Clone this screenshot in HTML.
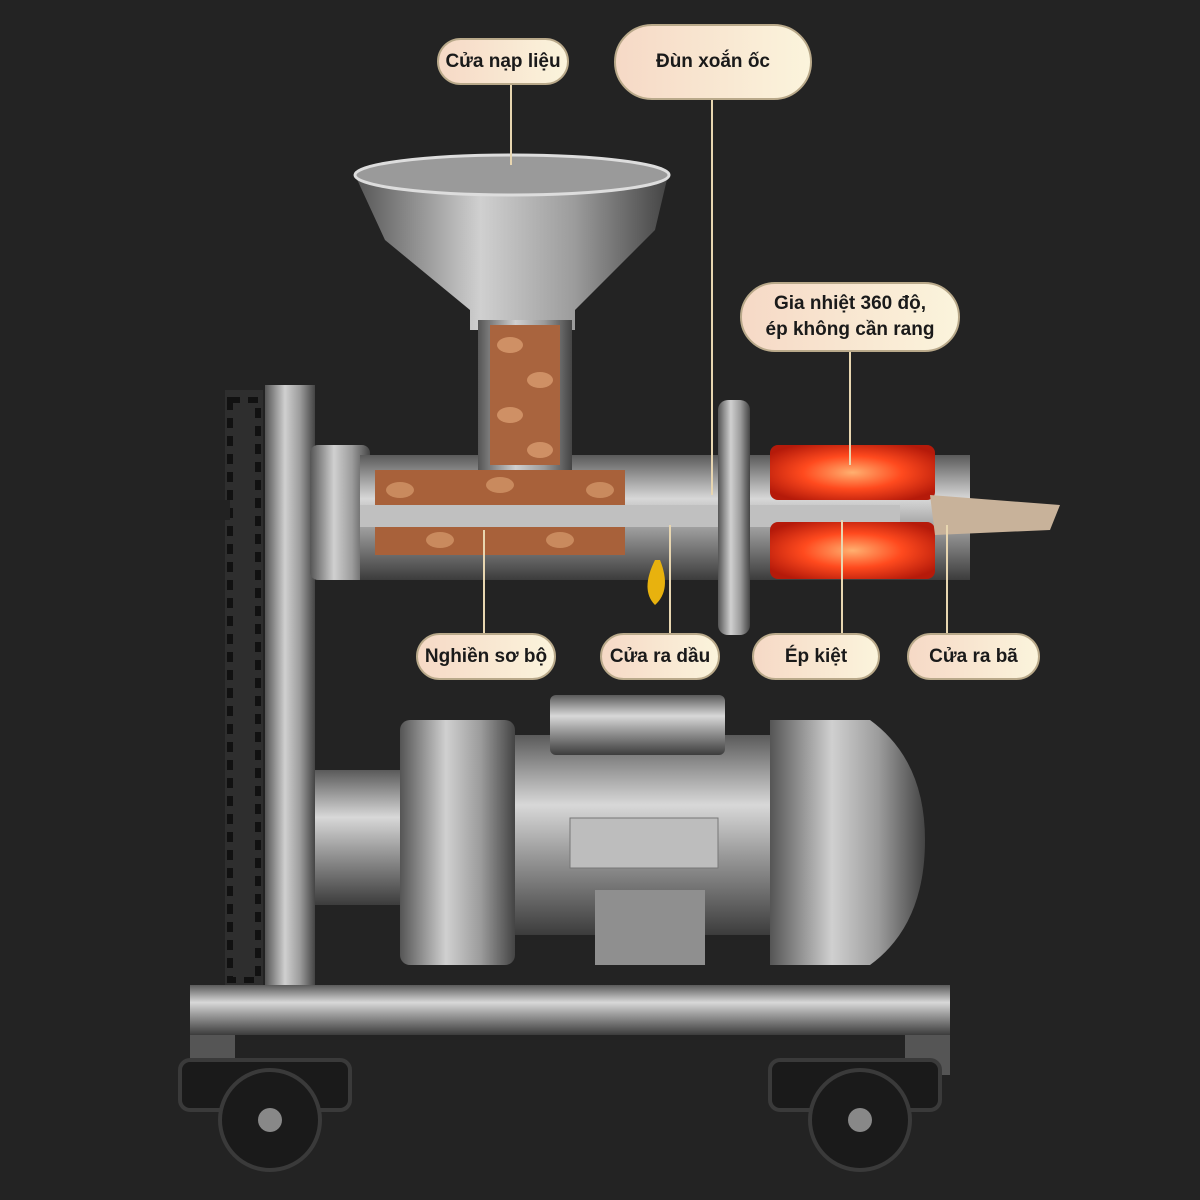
<!DOCTYPE html>
<html><head><meta charset="utf-8"><style>
body{margin:0;width:1200px;height:1200px;background:#232323;overflow:hidden;position:relative;font-family:"Liberation Sans","Noto Sans CJK SC",sans-serif}
.l{position:absolute;border-radius:40px;background:linear-gradient(90deg,#f6d9c6,#fbf4dc);color:#1a1a1a;font-weight:bold;font-size:19px;display:flex;align-items:center;justify-content:center;text-align:center;line-height:26px;border:2px solid #b9a98a;box-sizing:border-box}
svg{position:absolute;left:0;top:0}
</style></head><body>
<svg width="1200" height="1200" viewBox="0 0 1200 1200">
<defs>
<linearGradient id="m" x1="0" y1="0" x2="0" y2="1"><stop offset="0" stop-color="#5a5a5a"/><stop offset=".35" stop-color="#d8d8d8"/><stop offset=".6" stop-color="#9a9a9a"/><stop offset="1" stop-color="#3c3c3c"/></linearGradient>
<linearGradient id="mh" x1="0" y1="0" x2="1" y2="0"><stop offset="0" stop-color="#555"/><stop offset=".4" stop-color="#d0d0d0"/><stop offset=".7" stop-color="#9c9c9c"/><stop offset="1" stop-color="#444"/></linearGradient>
<radialGradient id="r" cx=".5" cy=".5" r=".6"><stop offset="0" stop-color="#ffb070"/><stop offset=".5" stop-color="#ff4a1e"/><stop offset="1" stop-color="#b51a0a"/></radialGradient>
</defs>
<!-- chain & plate -->
<rect x="225" y="390" width="38" height="600" fill="#2e2e2e"/>
<g fill="#111">
<rect x="230" y="400" width="28" height="580" fill="none" stroke="#111" stroke-width="6" stroke-dasharray="10 8"/></g>
<rect x="265" y="385" width="50" height="600" fill="url(#mh)"/>
<rect x="180" y="500" width="50" height="20" fill="#222"/>
<!-- barrel -->
<rect x="310" y="445" width="60" height="135" rx="8" fill="url(#mh)"/>
<rect x="360" y="455" width="610" height="125" fill="url(#m)"/>
<rect x="375" y="470" width="250" height="85" fill="#a8613a"/>
<g fill="#c98a5e"><ellipse cx="400" cy="490" rx="14" ry="8"/><ellipse cx="440" cy="540" rx="14" ry="8"/><ellipse cx="500" cy="485" rx="14" ry="8"/><ellipse cx="560" cy="540" rx="14" ry="8"/><ellipse cx="600" cy="490" rx="14" ry="8"/></g>
<rect x="360" y="505" width="540" height="22" fill="#c0c0c0"/>
<!-- funnel -->
<path d="M355 175 L668 175 L655 230 L575 310 L575 330 L470 330 L470 310 L385 240 Z" fill="url(#mh)"/>
<ellipse cx="512" cy="175" rx="157" ry="20" fill="#9a9a9a" stroke="#ddd" stroke-width="3"/>
<rect x="478" y="320" width="94" height="150" fill="url(#mh)"/>
<rect x="490" y="325" width="70" height="140" fill="#a9643e"/>
<g fill="#cf9065"><ellipse cx="510" cy="345" rx="13" ry="8"/><ellipse cx="540" cy="380" rx="13" ry="8"/><ellipse cx="510" cy="415" rx="13" ry="8"/><ellipse cx="540" cy="450" rx="13" ry="8"/></g>
<!-- disc -->
<rect x="718" y="400" width="32" height="235" rx="10" fill="url(#mh)"/>
<!-- heaters -->
<rect x="770" y="445" width="165" height="55" rx="8" fill="url(#r)"/>
<rect x="770" y="522" width="165" height="57" rx="8" fill="url(#r)"/>
<rect x="935" y="455" width="30" height="125" fill="url(#m)"/>
<path d="M930 495 L1060 505 L1050 530 L935 535 Z" fill="#c8b29a"/>
<path d="M655 560 Q640 590 655 605 Q672 590 660 560 Z" fill="#e8b20e"/>
<!-- motor -->
<rect x="315" y="770" width="90" height="135" fill="url(#m)"/>
<rect x="400" y="720" width="115" height="245" rx="10" fill="url(#mh)"/>
<rect x="515" y="735" width="270" height="200" fill="url(#m)"/>
<rect x="550" y="695" width="175" height="60" rx="6" fill="url(#m)"/>
<rect x="570" y="818" width="148" height="50" fill="#bdbdbd" stroke="#777"/>
<rect x="595" y="890" width="110" height="75" fill="#8f8f8f"/>
<path d="M770 720 L870 720 Q925 760 925 840 Q925 925 870 965 L770 965 Z" fill="url(#mh)"/>
<!-- base -->
<rect x="190" y="985" width="760" height="50" fill="url(#m)"/>
<rect x="190" y="1035" width="45" height="40" fill="#555"/>
<rect x="905" y="1035" width="45" height="40" fill="#555"/>
<g fill="#1a1a1a" stroke="#3a3a3a" stroke-width="4">
<rect x="180" y="1060" width="170" height="50" rx="10"/><rect x="770" y="1060" width="170" height="50" rx="10"/>
<circle cx="270" cy="1120" r="50"/><circle cx="860" cy="1120" r="50"/></g>
<circle cx="270" cy="1120" r="12" fill="#888"/><circle cx="860" cy="1120" r="12" fill="#888"/>
<!-- lines -->
<g stroke="#e8d6b0" stroke-width="2">
<line x1="511" y1="84" x2="511" y2="165"/><line x1="712" y1="100" x2="712" y2="495"/>
<line x1="850" y1="352" x2="850" y2="465"/><line x1="484" y1="530" x2="484" y2="633"/>
<line x1="670" y1="525" x2="670" y2="633"/><line x1="842" y1="520" x2="842" y2="633"/>
<line x1="947" y1="525" x2="947" y2="633"/></g>
</svg>
<div class="l" style="left:437px;top:38px;width:132px;height:47px">Cửa nạp liệu</div>
<div class="l" style="left:614px;top:24px;width:198px;height:76px">Đùn xoắn ốc</div>
<div class="l" style="left:740px;top:282px;width:220px;height:70px">Gia nhiệt 360 độ,<br>ép không cần rang</div>
<div class="l" style="left:416px;top:633px;width:140px;height:47px">Nghiền sơ bộ</div>
<div class="l" style="left:600px;top:633px;width:120px;height:47px">Cửa ra dầu</div>
<div class="l" style="left:752px;top:633px;width:128px;height:47px">Ép kiệt</div>
<div class="l" style="left:907px;top:633px;width:133px;height:47px">Cửa ra bã</div>
</body></html>
